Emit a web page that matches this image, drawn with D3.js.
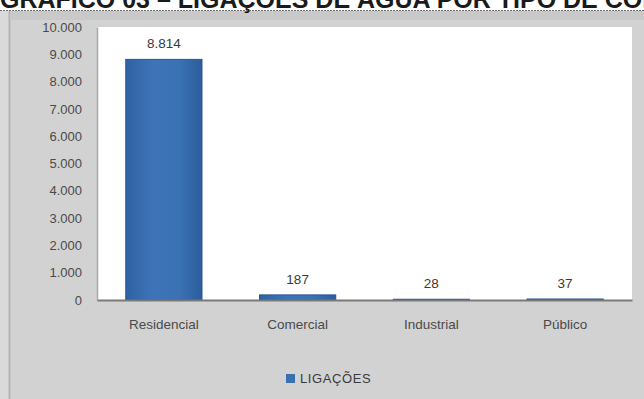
<!DOCTYPE html>
<html>
<head>
<meta charset="utf-8">
<script src="https://cdn.jsdelivr.net/npm/d3@7/dist/d3.min.js"></script>
<style>
  html, body { margin: 0; padding: 0; background: #ffffff; }
  svg { display: block; }
</style>
</head>
<body>
<script>
// Ligações de água por tipo de consumo
const categories = ["Residencial", "Comercial", "Industrial", "Público"];
const ligacoes = [8814, 187, 28, 37];
const yTicks = [0, 1000, 2000, 3000, 4000, 5000, 6000, 7000, 8000, 9000, 10000];
const seriesName = "LIGAÇÕES";
const title = "GRÁFICO 03 – LIGAÇÕES DE ÁGUA POR TIPO DE CONSUMO";

const W = 644, H = 399;
const plot = { left: 97, right: 632, top: 27, bottom: 300 };
const FONT = "Liberation Sans, Arial, sans-serif";

const ptBR = d3.formatLocale({ decimal: ",", thousands: ".", grouping: [3], currency: ["R$", ""] });
const fmt = ptBR.format(",d");

const svg = d3.select("body").append("svg").attr("width", W).attr("height", H);

const defs = svg.append("defs");
const grad = defs.append("linearGradient").attr("id", "barFill").attr("x1", 0).attr("x2", 1).attr("y1", 0).attr("y2", 0);
grad.append("stop").attr("offset", "0%").attr("stop-color", "#2f62a3");
grad.append("stop").attr("offset", "35%").attr("stop-color", "#3d74b7");
grad.append("stop").attr("offset", "70%").attr("stop-color", "#3b72b4");
grad.append("stop").attr("offset", "100%").attr("stop-color", "#2c5c9b");

// page background and chart frame
svg.append("rect").attr("width", W).attr("height", H).attr("fill", "#ffffff");
svg.append("rect").attr("x", 0).attr("y", 11).attr("width", W).attr("height", H - 11).attr("fill", "#dadada");
svg.append("rect").attr("x", 9).attr("y", 11).attr("width", W - 9).attr("height", H - 11).attr("fill", "#d2d2d2");
svg.append("line").attr("x1", 9.5).attr("x2", 9.5).attr("y1", 11).attr("y2", H).attr("stroke", "#b4b4b4").attr("stroke-width", 2);
svg.append("rect").attr("x", 10).attr("y", 11).attr("width", W - 10).attr("height", 9).attr("fill", "#c9c9c9");

// title, running off the top of the page
svg.append("text")
  .attr("x", 0).attr("y", 8)
  .attr("font-family", FONT)
  .attr("font-weight", "bold")
  .attr("font-size", 25)
  .attr("fill", "#1a1a1a")
  .text(title);
svg.append("line").attr("x1", 0).attr("x2", W).attr("y1", 10.5).attr("y2", 10.5)
  .attr("stroke", "#6a6a6a").attr("stroke-width", 1).attr("stroke-dasharray", "2,1");

// plot area
svg.append("rect")
  .attr("x", plot.left).attr("y", plot.top)
  .attr("width", plot.right - plot.left).attr("height", plot.bottom - plot.top)
  .attr("fill", "#ffffff");

const x = d3.scaleBand().domain(categories).range([plot.left, plot.right]).paddingInner(0.43).paddingOuter(0.215);
const y = d3.scaleLinear().domain([0, 10000]).range([plot.bottom, plot.top]);

// y axis
const yAxis = d3.axisLeft(y).tickValues(yTicks).tickFormat(fmt).tickSize(0).tickPadding(15);
const gy = svg.append("g").attr("transform", `translate(${plot.left},0)`).call(yAxis);
gy.select(".domain").attr("stroke", "#a8a8a8").attr("stroke-width", 1.5);
gy.selectAll("text")
  .attr("font-family", FONT)
  .attr("font-size", 13)
  .attr("fill", "#4a4a4a");

// bars
svg.append("g").selectAll("rect")
  .data(ligacoes)
  .join("rect")
  .attr("x", (d, i) => x(categories[i]))
  .attr("y", d => y(d))
  .attr("width", x.bandwidth())
  .attr("height", d => y(0) - y(d))
  .attr("fill", "url(#barFill)")
  .attr("stroke", "#2a5690")
  .attr("stroke-width", 1);

// value labels
svg.append("g").selectAll("text")
  .data(ligacoes)
  .join("text")
  .attr("x", (d, i) => x(categories[i]) + x.bandwidth() / 2)
  .attr("y", d => y(d) - 11)
  .attr("text-anchor", "middle")
  .attr("font-family", FONT)
  .attr("font-size", 13.5)
  .attr("fill", "#3a3a3a")
  .text(d => fmt(d));

// x axis
const xAxis = d3.axisBottom(x).tickSize(0).tickPadding(19);
const gx = svg.append("g").attr("transform", `translate(0,${plot.bottom})`).call(xAxis);
gx.select(".domain").attr("stroke", "#7a7a7a").attr("stroke-width", 2);
gx.selectAll("text")
  .attr("font-family", FONT)
  .attr("font-size", 13.5)
  .attr("fill", "#4a4a4a");

// legend
const legend = svg.append("g").attr("transform", "translate(286,379)");
legend.append("rect").attr("x", 0).attr("y", -5).attr("width", 9).attr("height", 9).attr("fill", "#3a70b2");
legend.append("text")
  .attr("x", 14).attr("y", 4)
  .attr("font-family", FONT)
  .attr("font-size", 13)
  .attr("letter-spacing", 0.6)
  .attr("fill", "#3a3a3a")
  .text(seriesName);
</script>
</body>
</html>
